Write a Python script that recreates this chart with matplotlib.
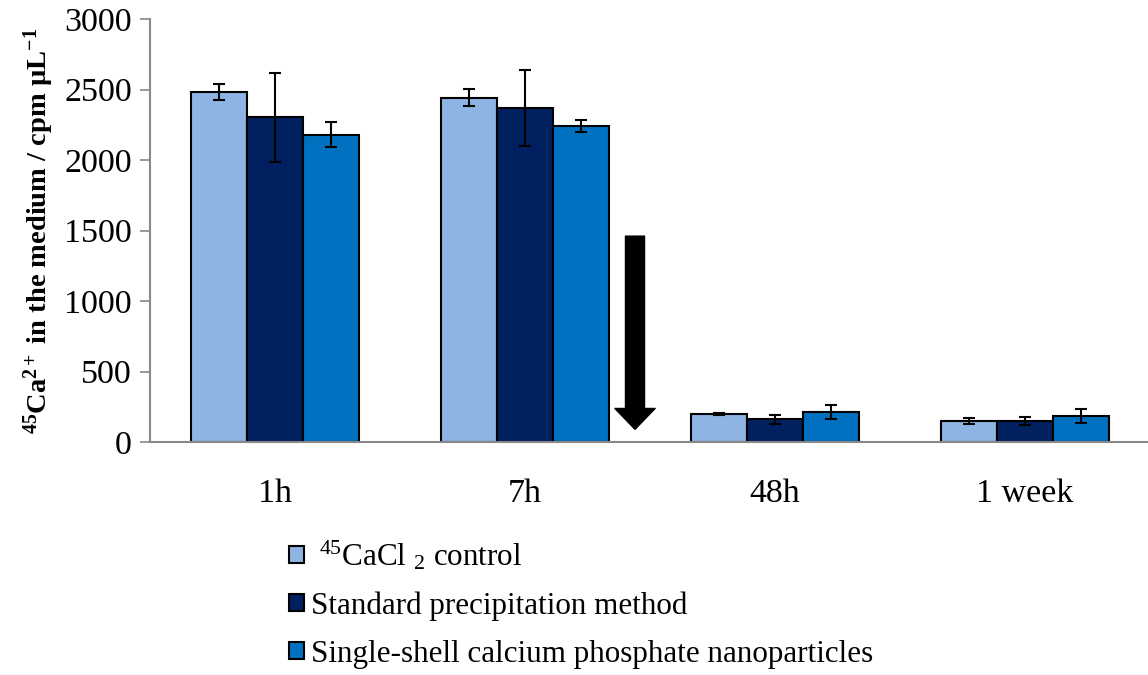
import matplotlib
matplotlib.use("Agg")
import matplotlib.pyplot as plt
import numpy as np

# ---- data ----
categories = ["1h", "7h", "48h", "1 week"]
series_labels = [r" $^{45}$CaCl $_{2}$ control",
                 "Standard precipitation method",
                 "Single-shell calcium phosphate nanoparticles"]
control_vals = [2480, 2442, 196, 151]
control_err = [57, 61, 8, 20]
standard_vals = [2303, 2369, 163, 149]
standard_err = [315, 268, 32, 29]
singleshell_vals = [2179, 2241, 213, 184]
singleshell_err = [90, 44, 48, 50]
yticks = [0, 500, 1000, 1500, 2000, 2500, 3000]

# arrow marking the drop between 7h and 48h
arrow_x = 1.44
arrow_from = 1460
arrow_to = 90

colors = ["#8EB4E3", "#002060", "#0070C0"]

plt.rcParams["font.family"] = ["Liberation Serif", "DejaVu Serif"]
plt.rcParams["mathtext.fontset"] = "custom"
plt.rcParams["mathtext.rm"] = "Liberation Serif"
plt.rcParams["mathtext.it"] = "Liberation Serif:italic"
plt.rcParams["mathtext.bf"] = "Liberation Serif:bold"

fig = plt.figure(figsize=(11.48, 6.75), dpi=100)
ax = fig.add_axes([150 / 1148, 1 - 442 / 675, 1 - 150 / 1148, (442 - 19) / 675])

x = np.arange(len(categories))
w = 0.223
series = [(control_vals, control_err), (standard_vals, standard_err),
          (singleshell_vals, singleshell_err)]
for i, ((vals, errs), c, lab) in enumerate(zip(series, colors, series_labels)):
    ax.bar(x + (i - 1) * w, vals, w, color=c, edgecolor="black", linewidth=1.5,
           label=lab, zorder=2)
    ax.errorbar(x + (i - 1) * w, vals, yerr=errs, fmt="none", ecolor="black",
                elinewidth=1.5, capsize=4.5, capthick=1.5, zorder=3)

ax.annotate("", xy=(arrow_x, arrow_to), xytext=(arrow_x, arrow_from),
            arrowprops=dict(arrowstyle="simple,head_length=1.5,head_width=2.9,tail_width=1.37",
                            mutation_scale=10, color="black", shrinkA=0, shrinkB=0),
            zorder=4)

ax.set_xlim(-0.5, 3.492)
ax.set_ylim(0, 3000)
ax.set_yticks(yticks)
ax.set_xticks(x)
ax.set_xticklabels(categories)
ax.tick_params(axis="x", length=0, pad=26, labelsize=24.5)
ax.tick_params(axis="y", length=7, width=1.2, color="#888888", pad=6, labelsize=24.5)
for s in ["top", "right"]:
    ax.spines[s].set_visible(False)
for s in ["left", "bottom"]:
    ax.spines[s].set_color("#888888")
    ax.spines[s].set_linewidth(1.5)

ax.set_ylabel(r"$\mathbf{^{45}}$Ca$\mathbf{^{2+}}$ in the medium / cpm µL$\mathbf{^{-1}}$",
              fontsize=20.5, fontweight="bold", labelpad=6)

fig.legend(loc="upper left", bbox_to_anchor=(289 / 1148, 1 - 539 / 675),
           frameon=False, fontsize=22.4, handlelength=0.47, handleheight=0.47,
           handletextpad=0.25, labelspacing=0.6, borderaxespad=0, borderpad=0)

fig.savefig("out.png", dpi=100)
